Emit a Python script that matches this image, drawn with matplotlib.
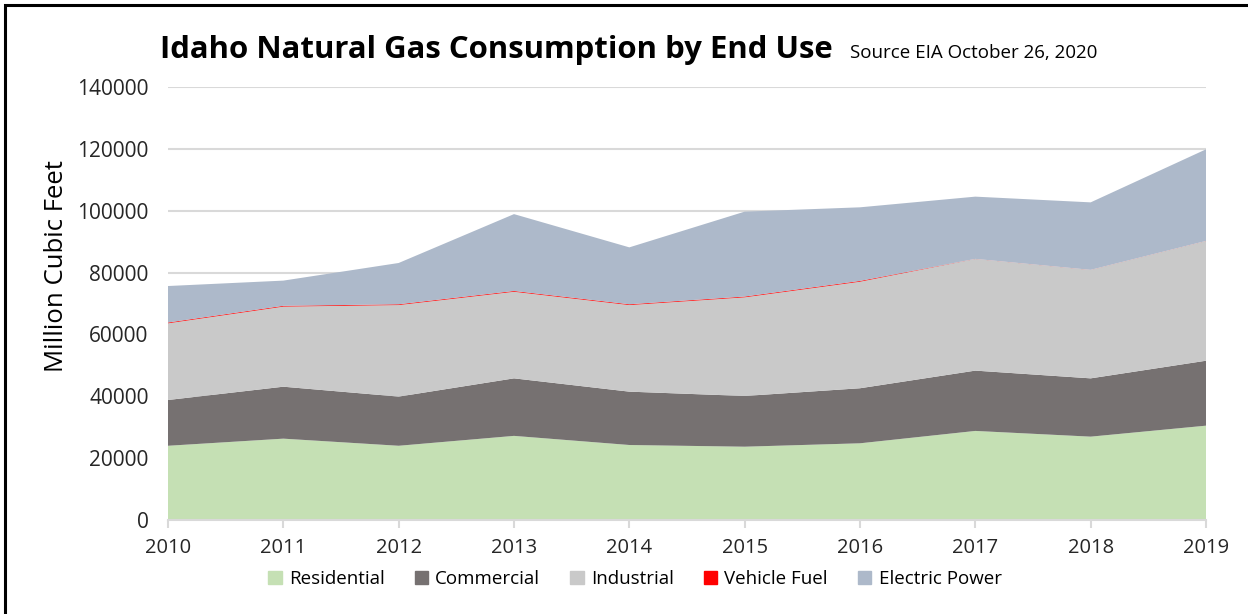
import matplotlib
matplotlib.use("Agg")
import matplotlib.pyplot as plt
import matplotlib.patches as mpatches
import numpy as np

plt.rcParams['font.family'] = ['Open Sans', 'DejaVu Sans']

years = [2010, 2011, 2012, 2013, 2014, 2015, 2016, 2017, 2018, 2019]
residential = [24000, 26300, 24000, 27200, 24250, 23700, 24800, 28800, 26950, 30500]
commercial = [14800, 16800, 15900, 18600, 17250, 16400, 17800, 19500, 18850, 21000]
industrial = [24800, 25900, 29600, 28000, 28000, 31900, 34450, 36100, 35050, 38700]
vehicle_fuel = [250, 250, 250, 250, 250, 250, 250, 30, 30, 30]
electric_power = [11800, 8150, 13350, 24850, 18400, 27450, 23800, 20120, 21820, 29620]

series_names = ['Residential', 'Commercial', 'Industrial', 'Vehicle Fuel', 'Electric Power']
colors = ['#C5E0B4', '#767171', '#C9C9C9', '#FF0000', '#ADB9CA']

W, H = 1248, 614
fig = plt.figure(figsize=(W / 100, H / 100), dpi=100)
ax = fig.add_axes([168 / W, 1 - 520 / H, (1206 - 168) / W, (520 - 87) / H])

ax.stackplot(years, residential, commercial, industrial, vehicle_fuel, electric_power,
             colors=colors, linewidth=0, zorder=2)

ax.set_xlim(2010, 2019)
ax.set_ylim(0, 140000)
ax.set_yticks(np.arange(0, 140001, 20000))
ax.set_xticks(years)
ax.set_xticklabels([str(y) for y in years])
ax.yaxis.grid(True, color='#D9D9D9', linewidth=1.5, zorder=0)
ax.set_axisbelow(True)
for s in ['top', 'right', 'left']:
    ax.spines[s].set_visible(False)
ax.spines['bottom'].set_color('#D9D9D9')
ax.spines['bottom'].set_linewidth(1.5)
ax.spines['bottom'].set_zorder(3)
ax.tick_params(axis='y', length=0, labelsize=15, colors='#262626', pad=14)
ax.tick_params(axis='x', length=6, width=1.5, color='#D9D9D9', labelsize=14.5,
               labelcolor='#262626', pad=7)
ax.set_ylabel('Million Cubic Feet', fontsize=18.5, color='#000000')
ax.yaxis.set_label_coords((57 - 168) / 1038, (520 - 266) / 433)
ax.yaxis.label.set_va('center')

# Title
t = fig.text(160 / W, 1 - 50 / H, 'Idaho Natural Gas Consumption by End Use',
             fontsize=20, fontweight='bold', ha='left', va='center', color='#000000')
fig.canvas.draw()
bb = t.get_window_extent()
t.set_fontsize(20 * 673 / bb.width)
fig.text(850 / W, 1 - 53 / H, 'Source EIA October 26, 2020', fontsize=13.5,
         ha='left', va='center', color='#000000')

handles = [mpatches.Patch(color=c, label=n) for c, n in zip(colors, series_names)]
fig.legend(handles=handles, loc='center', bbox_to_anchor=(635 / W, 1 - 579 / H),
           ncol=5, frameon=False, fontsize=13.5, handlelength=0.7, handleheight=0.7,
           handletextpad=0.4, columnspacing=1.6)

# outer border
fig.patches.append(mpatches.Rectangle((5 / W, -0.1), 1.2, 1 - 5 / H + 0.1,
                                      transform=fig.transFigure, fill=False,
                                      edgecolor='black', linewidth=2.2))

fig.savefig('out.png', dpi=100)
